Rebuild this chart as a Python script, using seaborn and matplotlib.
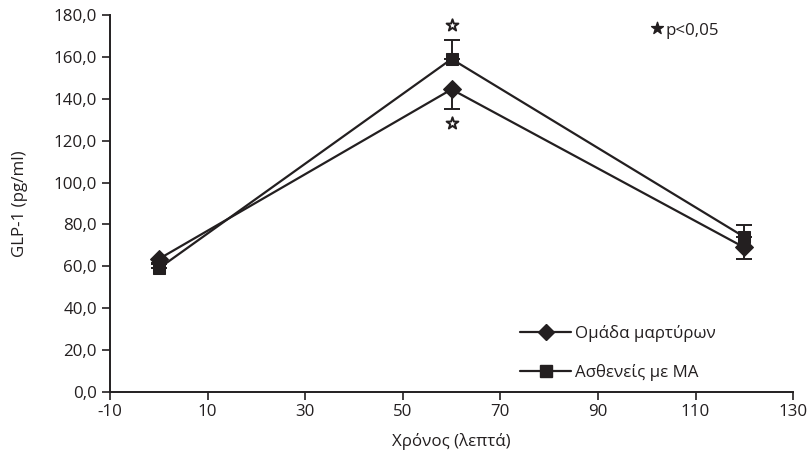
import matplotlib
matplotlib.use("Agg")
import matplotlib.pyplot as plt
from matplotlib.lines import Line2D
import seaborn as sns
import pandas as pd

# Data: GLP-1 concentration over time for two groups
time_min = [0, 60, 120]
control_vals = [63.5, 144.5, 69.0]
control_err = [2.5, 9.5, 5.5]        # drawn downward
patient_vals = [59.0, 159.0, 74.0]
patient_err = [2.5, 9.2, 5.5]        # drawn upward
group_labels = ["Ομάδα μαρτύρων", "Ασθενείς με ΜΑ"]
x_ticks = [-10, 10, 30, 50, 70, 90, 110, 130]
y_ticks = [0, 20, 40, 60, 80, 100, 120, 140, 160, 180]
star_x = [60, 60]
star_y = [175.0, 128.5]

sns.set_theme(style="ticks")
plt.rcParams["font.family"] = ["Open Sans", "DejaVu Sans"]
ink = "#231f20"
fs = 12.2

df = pd.DataFrame({
    "time": time_min * 2,
    "glp1": control_vals + patient_vals,
    "group": [group_labels[0]] * 3 + [group_labels[1]] * 3,
})

fig = plt.figure(figsize=(8.11, 4.66), dpi=100)
ax = fig.add_axes([0.1356, 0.1588, 0.978 - 0.1356, 0.9678 - 0.1588])

sns.lineplot(data=df, x="time", y="glp1", hue="group", style="group",
             markers={group_labels[0]: "D", group_labels[1]: "s"},
             dashes=False, palette=[ink, ink], linewidth=1.6,
             markersize=9, markeredgecolor=ink, ax=ax, legend=False, zorder=3)

# one-sided error bars
ax.errorbar(time_min, control_vals, yerr=[control_err, [0, 0, 0]], fmt="none",
            ecolor=ink, elinewidth=1.4, capsize=6, capthick=1.4, zorder=2)
ax.errorbar(time_min, patient_vals, yerr=[[0, 0, 0], patient_err], fmt="none",
            ecolor=ink, elinewidth=1.4, capsize=6, capthick=1.4, zorder=2)

# significance stars
ax.scatter(star_x, star_y, marker="*", s=80, facecolor="white",
           edgecolor=ink, linewidth=1.4, zorder=4)
ax.scatter([102.2], [174.0], marker="*", s=80, facecolor=ink,
           edgecolor=ink, linewidth=1.0, zorder=4)
ax.text(103.8, 172.3, "p<0,05", fontsize=fs, color=ink, va="center", ha="left")

ax.set_xlim(-10, 130)
ax.set_ylim(0, 180)
ax.set_xticks(x_ticks)
ax.set_yticks(y_ticks)
ax.set_xticklabels([str(v) for v in x_ticks])
ax.set_yticklabels([f"{v:.1f}".replace(".", ",") for v in y_ticks])
ax.tick_params(axis="both", labelsize=fs, colors=ink, length=6, width=1.2,
               direction="out")
ax.tick_params(axis="x", pad=3)
for s in ["left", "bottom"]:
    ax.spines[s].set_color(ink)
    ax.spines[s].set_linewidth(1.4)
sns.despine(ax=ax)

ax.set_xlabel("Χρόνος (λεπτά)", fontsize=fs, color=ink, labelpad=9)
ax.set_ylabel("GLP-1 (pg/ml)", fontsize=fs, color=ink, labelpad=18)

# legend
handles = [Line2D([], [], color=ink, lw=1.6, marker="D", markersize=8),
           Line2D([], [], color=ink, lw=1.6, marker="s", markersize=8.5)]
ax.legend(handles, group_labels, loc="lower left", bbox_to_anchor=(0.578, -0.012),
          frameon=False, fontsize=fs, handlelength=3.0, handletextpad=0.25,
          labelspacing=1.3, labelcolor=ink)

fig.savefig("out.png", dpi=100)
